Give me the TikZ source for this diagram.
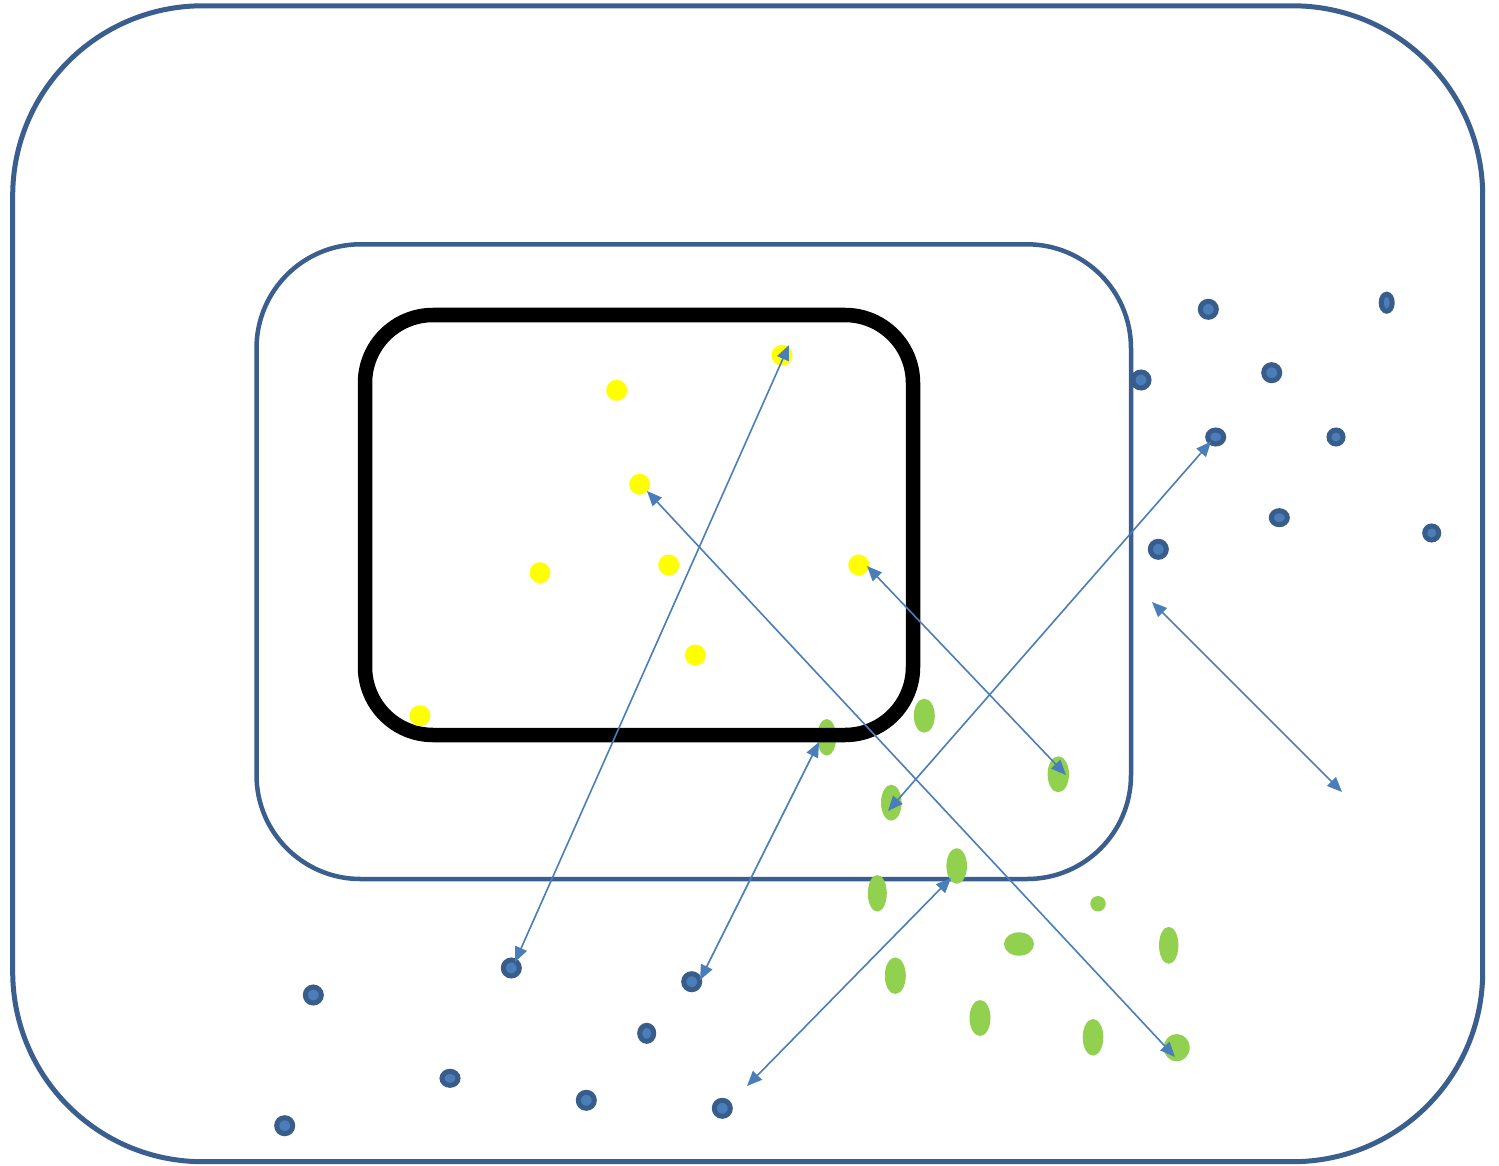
\documentclass[tikz,border=0pt]{standalone}
\usetikzlibrary{arrows.meta,shapes.geometric}
\definecolor{frameblue}{HTML}{3A5F8F}
\definecolor{dotdark}{HTML}{385D8A}
\definecolor{dotlight}{HTML}{4A7EBB}
\definecolor{arrowblue}{HTML}{4A7EBB}
\definecolor{leaf}{HTML}{92D050}
\definecolor{sun}{HTML}{FFFF00}
\tikzset{
  outerframe/.style={draw=frameblue, line width=5pt, rounded corners=190pt},
  innerframe/.style={draw=frameblue, line width=4.5pt, rounded corners=104pt},
  blackframe/.style={draw=black, line width=14.5pt, rounded corners=68pt},
  bdot/.style={ellipse, draw=dotdark, fill=dotlight, line width=5pt, inner sep=0pt,
               minimum width=16pt, minimum height=16pt},
  gdot/.style={ellipse, fill=leaf, draw=none, inner sep=0pt},
  ydot/.style={circle, fill=sun, draw=none, inner sep=0pt, minimum size=21pt},
  conn/.style={draw=arrowblue, line width=1.6pt,
               {Triangle[length=15pt,width=12.5pt]}-{Triangle[length=15pt,width=12.5pt]}}
}
\begin{document}
\begin{tikzpicture}[x=1pt,y=-1pt]
\useasboundingbox[fill=white] (0,0) rectangle (1499,1166);

% frames
\draw[outerframe] (12.7,5.8) rectangle (1482.7,1161.7);
\draw[innerframe] (256.5,244.3) rectangle (1131,879);

% blue dots (upper right)
\node[bdot] (b1) at (1208.3,309.3) {};
\node[bdot, minimum width=11pt, minimum height=17pt] (b2) at (1386.7,302.7) {};
\node[bdot] (b3) at (1141,380) {};
\node[bdot] (b4) at (1271.7,372.7) {};
\node[bdot, minimum height=14pt] (b5) at (1215.7,437) {};
\node[bdot, minimum width=14pt, minimum height=14pt] (b6) at (1336,437) {};
\node[bdot, minimum height=14pt] (b7) at (1279.3,517.7) {};
\node[bdot, minimum width=14pt, minimum height=14pt] (b8) at (1431.7,533) {};
\node[bdot] (b9) at (1158.3,549.3) {};
% blue dots (lower left)
\node[bdot] (b10) at (313.3,995) {};
\node[bdot] (b11) at (511.3,968) {};
\node[bdot] (b12) at (691.7,981.7) {};
\node[bdot, minimum width=14pt] (b13) at (646.7,1033.3) {};
\node[bdot, minimum height=14pt] (b14) at (450,1078.3) {};
\node[bdot] (b15) at (586.3,1100.3) {};
\node[bdot] (b16) at (722.3,1108.3) {};
\node[bdot] (b17) at (284.7,1125.7) {};

% green ellipses
\node[gdot, minimum width=19pt, minimum height=36.6pt] (g1) at (826.7,737.3) {};
\node[gdot, minimum width=21pt, minimum height=34pt] (g2) at (924.3,715.7) {};
\node[gdot, minimum width=21.4pt, minimum height=36pt] (g3) at (1058.3,774.3) {};
\node[gdot, minimum width=20.6pt, minimum height=36pt] (g4) at (891.3,802.7) {};
\node[gdot, minimum width=20.6pt, minimum height=35.6pt] (g5) at (956.7,866) {};
\node[gdot, minimum width=19pt, minimum height=36.6pt] (g6) at (877.3,893.3) {};
\node[gdot, minimum width=30pt, minimum height=23.4pt] (g7) at (1019,944) {};
\node[gdot, minimum width=21pt, minimum height=36.6pt] (g8) at (895.3,975.7) {};
\node[gdot, minimum width=21pt, minimum height=36pt] (g9) at (980,1018) {};
\node[gdot, minimum width=20.6pt, minimum height=36.6pt] (g10) at (1093,1037.3) {};
\node[gdot, minimum width=15.4pt, minimum height=15.4pt] (g11) at (1098,903.7) {};
\node[gdot, minimum width=19.4pt, minimum height=37pt] (g12) at (1168.7,945.3) {};
\node[gdot, minimum width=26pt, minimum height=27.4pt] (g13) at (1176.7,1047.7) {};

% black frame
\draw[blackframe] (365,315) rectangle (913,735);

% yellow dots
\node[ydot] (y1) at (616.7,390.3) {};
\node[ydot] (y2) at (639.7,484.3) {};
\node[ydot] (y3) at (540,572.7) {};
\node[ydot] (y4) at (668.7,565) {};
\node[ydot] (y5) at (858.7,565) {};
\node[ydot] (y6) at (695.3,655) {};
\node[ydot] (y7) at (420,715.7) {};
\node[ydot] (y8) at (782,355.3) {};

% arrow end points
\coordinate (a1) at (789,345);
\coordinate (a2) at (515,962);
\coordinate (c1) at (819,742);
\coordinate (c2) at (700,980);
\coordinate (d1) at (1211,441.5);
\coordinate (d2) at (888,811);
\coordinate (e1) at (867,566);
\coordinate (e2) at (1066,775);
\coordinate (f1) at (647,491);
\coordinate (f2) at (1175,1057);
\coordinate (h1) at (951,878);
\coordinate (h2) at (747,1086);
\coordinate (k1) at (1152,602);
\coordinate (k2) at (1342,792);

% connectors
\draw[conn] (a1) -- (a2);
\draw[conn] (c1) -- (c2);
\draw[conn] (d1) -- (d2);
\draw[conn] (e1) -- (e2);
\draw[conn] (f1) -- (f2);
\draw[conn] (h1) -- (h2);
\draw[conn] (k1) -- (k2);
\end{tikzpicture}
\end{document}
